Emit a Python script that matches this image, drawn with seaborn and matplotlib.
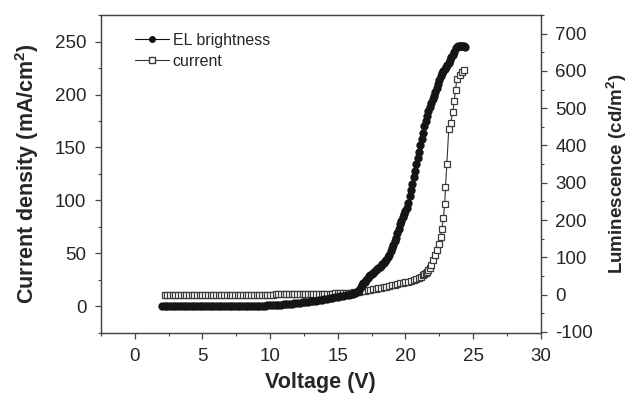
import matplotlib
matplotlib.use("Agg")
import matplotlib.pyplot as plt
from matplotlib.ticker import MultipleLocator
from matplotlib.lines import Line2D
import seaborn as sns
import pandas as pd

# EL brightness (filled circles), read against the left axis
el_voltage = [
    2.0, 2.2, 2.4, 2.6, 2.8, 3.0, 3.2, 3.4, 3.6, 3.8, 4.0, 4.2, 4.4, 4.6, 4.8,
    5.0, 5.2, 5.4, 5.6, 5.8, 6.0, 6.2, 6.4, 6.6, 6.8, 7.0, 7.2, 7.4, 7.6, 7.8,
    8.0, 8.2, 8.4, 8.6, 8.8, 9.0, 9.2, 9.4, 9.6, 9.8, 10.0, 10.2, 10.4, 10.6,
    10.8, 11.0, 11.2, 11.4, 11.6, 11.8, 12.0, 12.2, 12.4, 12.6, 12.8, 13.0,
    13.2, 13.4, 13.6, 13.8, 14.0, 14.2, 14.4, 14.6, 14.8, 15.0, 15.2, 15.4,
    15.6, 15.8,
    16.0, 16.1, 16.2, 16.3, 16.4, 16.5, 16.6, 16.7, 16.8, 16.9,
    17.0, 17.1, 17.2, 17.3, 17.4, 17.5, 17.6, 17.7, 17.8, 17.9,
    18.0, 18.1, 18.2, 18.3, 18.4, 18.5, 18.6, 18.7, 18.8, 18.9,
    19.0, 19.1, 19.2, 19.3, 19.4, 19.5, 19.6, 19.7, 19.8, 19.9,
    20.0, 20.1, 20.2, 20.3, 20.4, 20.5, 20.6, 20.7, 20.8, 20.9,
    21.0, 21.1, 21.2, 21.3, 21.4, 21.5, 21.6, 21.7, 21.8, 21.9,
    22.0, 22.1, 22.2, 22.3, 22.4, 22.5, 22.6, 22.7, 22.8, 22.9,
    23.0, 23.1, 23.2, 23.3, 23.4, 23.5, 23.6, 23.7, 23.8, 23.9,
    24.0, 24.1, 24.2, 24.3, 24.4,
]
el_value = [
    0.0, 0.0, 0.0, 0.0, 0.0, 0.0, 0.0, 0.0, 0.0, 0.0, 0.0, 0.0, 0.0, 0.0, 0.0,
    0.0, 0.0, 0.0, 0.1, 0.1, 0.1, 0.1, 0.1, 0.1, 0.2, 0.2, 0.2, 0.2, 0.3, 0.3,
    0.3, 0.4, 0.4, 0.5, 0.5, 0.6, 0.7, 0.8, 0.9, 1.0, 1.1, 1.3, 1.4, 1.6,
    1.8, 2.0, 2.2, 2.4, 2.7, 2.9, 3.2, 3.5, 3.8, 4.1, 4.4, 4.8,
    5.1, 5.5, 5.9, 6.3, 6.7, 7.1, 7.6, 8.0, 8.5, 9.0, 9.5, 10.0,
    10.6, 11.2,
    11.8, 12.2, 12.6, 13.0, 13.6, 14.6, 16.0, 18.0, 20.0, 22.0,
    23.5, 25.3, 27.0, 28.3, 29.5, 30.5, 31.5, 32.8, 34.0, 35.0,
    36.0, 37.2, 38.5, 39.7, 41.0, 42.5, 44.0, 46.5, 49.0, 52.0,
    55.0, 58.0, 61.5, 65.0, 69.0, 73.0, 77.5, 81.0, 84.0, 87.0,
    90.0, 93.0, 98.0, 104.0, 110.0, 116.0, 122.0, 128.0, 134.0, 140.0,
    146.0, 152.0, 158.0, 164.0, 170.0, 175.0, 180.0, 184.0, 188.0, 192.0,
    196.0, 199.0, 202.0, 206.0, 210.0, 214.0, 217.0, 220.0, 222.0, 224.0,
    226.0, 228.0, 230.0, 232.5, 235.0, 237.5, 240.0, 243.5, 245.0, 245.5,
    245.5, 245.5, 245.5, 245.5, 245.0,
]

# current (open squares), read against the right axis
cur_voltage = [
    2.2, 2.4, 2.6, 2.8, 3.0, 3.2, 3.4, 3.6, 3.8, 4.0, 4.2, 4.4, 4.6, 4.8,
    5.0, 5.2, 5.4, 5.6, 5.8, 6.0, 6.2, 6.4, 6.6, 6.8, 7.0, 7.2, 7.4, 7.6,
    7.8, 8.0, 8.2, 8.4, 8.6, 8.8, 9.0, 9.2, 9.4, 9.6, 9.8, 10.0, 10.2, 10.4,
    10.6, 10.8, 11.0, 11.2, 11.4, 11.6, 11.8, 12.0, 12.2, 12.4, 12.6, 12.8,
    13.0, 13.2, 13.4, 13.6, 13.8, 14.0, 14.2, 14.4, 14.6, 14.8, 15.0, 15.2,
    15.4, 15.6, 15.8, 16.0, 16.2, 16.4, 16.6, 16.8, 17.0, 17.2, 17.4, 17.6,
    17.8, 18.0, 18.2, 18.4, 18.6, 18.8, 19.0, 19.2, 19.4, 19.6, 19.8, 20.0,
    20.2, 20.4, 20.6, 20.8, 21.0, 21.15, 21.3, 21.4, 21.5, 21.6, 21.7, 21.8,
    21.9, 22.05, 22.2, 22.3, 22.45, 22.6, 22.7, 22.8, 22.9, 22.96, 23.06,
    23.2, 23.33, 23.5, 23.6, 23.7, 23.8, 24.0, 24.15, 24.34,
]
cur_value = [
    0.0, 0.0, 0.0, 0.0, 0.0, 0.0, 0.0, 0.0, 0.0, 0.0, 0.0, 0.0, 0.0, 0.0,
    0.0, 0.0, 0.0, 0.0, 0.0, 0.0, 0.0, 0.0, 0.0, 0.0, 0.0, 0.0, 0.0, 0.0,
    0.0, 0.0, 0.0, 0.0, 0.0, 0.0, 0.1, 0.1, 0.1, 0.1, 0.2, 0.2, 0.2, 0.3,
    0.3, 0.4, 0.4, 0.5, 0.5, 0.6, 0.7, 0.8, 0.9, 1.0, 1.1, 1.2,
    1.4, 1.5, 1.7, 1.9, 2.1, 2.3, 2.5, 2.7, 2.9, 3.1, 3.4, 3.7,
    4.0, 4.4, 4.8, 5.3, 6.0, 7.0, 8.0, 9.0, 10.0, 11.5, 13.0, 14.0,
    15.5, 17.0, 18.5, 20.0, 21.0, 23.0, 25.0, 26.5, 28.0, 30.0, 31.5, 33.0,
    35.0, 37.0, 39.0, 41.5, 45.0, 48.0, 52.0, 55.0, 58.0, 61.0, 65.0, 72.0,
    79.0, 92.0, 106.0, 119.0, 135.0, 155.0, 177.0, 205.0, 242.0, 289.0, 351.0,
    443.0, 460.0, 489.0, 519.0, 550.0, 577.0, 588.0, 597.0, 603.0,
]

el_df = pd.DataFrame({"voltage": el_voltage, "value": el_value})
cur_df = pd.DataFrame({"voltage": cur_voltage, "value": cur_value})

sns.set_style("ticks")
plt.rcParams["font.family"] = ["Liberation Sans", "DejaVu Sans"]
plt.rcParams["mathtext.fontset"] = "custom"
plt.rcParams["mathtext.rm"] = "Liberation Sans"
plt.rcParams["mathtext.bf"] = "Liberation Sans:bold"
plt.rcParams["axes.unicode_minus"] = False

fig = plt.figure(figsize=(6.31, 3.95), dpi=100)
ax = fig.add_axes([0.160, 0.157, 0.697, 0.805])
ax2 = ax.twinx()

sns.lineplot(data=cur_df, x="voltage", y="value", ax=ax2, sort=False,
             color="#333333", linewidth=0.8, marker="s", markersize=4.2,
             markerfacecolor="white", markeredgecolor="#3a3a3a",
             markeredgewidth=0.9)
sns.lineplot(data=el_df, x="voltage", y="value", ax=ax, sort=False,
             color="#111111", linewidth=0.8, marker="o", markersize=6,
             markeredgewidth=0, markerfacecolor="#151515")
ax.set_zorder(ax2.get_zorder() + 1)
ax.patch.set_visible(False)

ax.set_xlim(-2.5, 30)
ax.set_ylim(-25, 275)
ax2.set_ylim(-103, 750)

ax.xaxis.set_major_locator(MultipleLocator(5))
ax.xaxis.set_minor_locator(MultipleLocator(2.5))
ax.yaxis.set_major_locator(MultipleLocator(50))
ax.yaxis.set_minor_locator(MultipleLocator(25))
ax2.yaxis.set_major_locator(MultipleLocator(100))
ax2.yaxis.set_minor_locator(MultipleLocator(50))

for a in (ax, ax2):
    for s in a.spines.values():
        s.set_visible(True)
        s.set_color("#444444")
        s.set_linewidth(0.9)
    a.tick_params(which="major", length=4.5, width=0.9, color="#444444",
                  labelsize=13.5, pad=6)
    a.tick_params(which="minor", length=2.5, width=0.8, color="#444444")
ax.tick_params(axis="x", which="both", top=False)

ax.set_xlabel("Voltage (V)", fontsize=15.5, fontweight="bold", labelpad=5)
ax.set_ylabel(r"Current density (mA/cm$^\mathbf{2}$)", fontsize=15.5,
              fontweight="bold", labelpad=10)
ax2.set_ylabel(r"Luminescence (cd/m$^\mathbf{2}$)", fontsize=13.5,
               fontweight="bold", labelpad=8)

handles = [
    Line2D([], [], color="#111111", linewidth=0.8, marker="o", markersize=5,
           markeredgewidth=0),
    Line2D([], [], color="#333333", linewidth=0.8, marker="s", markersize=4,
           markerfacecolor="white", markeredgecolor="#3a3a3a"),
]
ax.legend(handles, ["EL brightness", "current"], loc="upper left",
          bbox_to_anchor=(0.045, 0.99), frameon=False, fontsize=11.5,
          handlelength=2.1, handletextpad=0.25, labelspacing=0.4)

fig.savefig("out.png", dpi=100)
